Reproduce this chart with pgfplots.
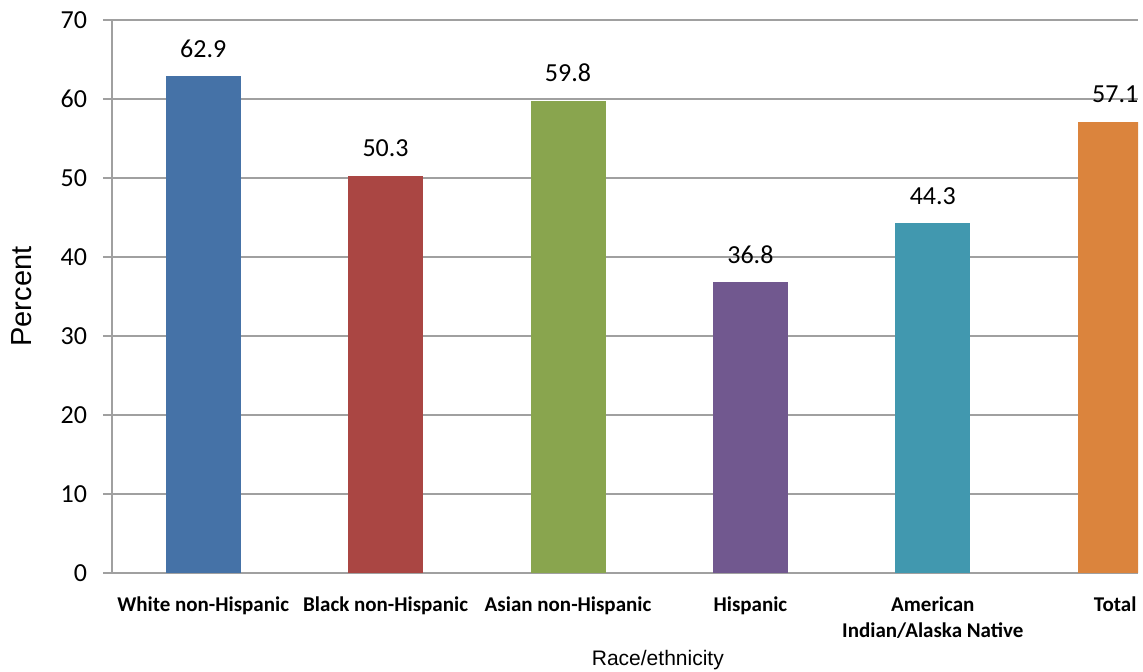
\documentclass[border=0pt]{standalone}
\usepackage{pgfplots}
\pgfplotsset{compat=1.18}
\usepackage{fontspec}
\setmainfont{Carlito}
\newfontfamily\arialfont{Liberation Sans}

\definecolor{cWhite}{RGB}{69,114,167}
\definecolor{cBlack}{RGB}{170,70,67}
\definecolor{cAsian}{RGB}{137,165,78}
\definecolor{cHisp}{RGB}{113,88,143}
\definecolor{cAIAN}{RGB}{65,152,175}
\definecolor{cTotal}{RGB}{219,132,61}
\definecolor{gridgray}{RGB}{160,160,160}

\begin{document}
\begin{tikzpicture}
\useasboundingbox (-56pt,-49.5pt) rectangle (515.5pt,286.5pt);
\begin{axis}[
  scale only axis, width=513pt, height=276.5pt,
  xmin=-0.5, xmax=5.125, ymin=0, ymax=70,
  ytick={0,10,...,70},
  xtick={0,...,5},
  xticklabels={White non-Hispanic, Black non-Hispanic, Asian non-Hispanic, Hispanic, {American\\Indian/Alaska Native}, Total},
  ybar, bar width=37.5pt, bar shift=0pt,
  ymajorgrids, grid style={gridgray, line width=0.6pt},
  axis x line*=bottom, axis y line*=left,
  axis line style={gridgray, line width=0.6pt, -},
  ytick align=outside, major tick length=4.5pt,
  xtick style={draw=none},
  ytick style={gridgray, line width=0.6pt},
  /pgf/number format/assume math mode=true,
  yticklabel style={font=\fontsize{13}{15}\selectfont, xshift=-4.5pt},
  xticklabel style={font=\fontsize{10.5}{13}\selectfont\bfseries, align=center, anchor=north, yshift=-4pt},
  ylabel={Percent},
  ylabel style={font=\arialfont\fontsize{14.5}{16}\selectfont, at={(axis description cs:-0.088,0.5)}, anchor=center},
  xlabel={Race/ethnicity},
  xlabel style={font=\arialfont\fontsize{10.5}{12}\selectfont, at={(axis description cs:0.532,-0.157)}, anchor=center},
  nodes near coords,
  every node near coord/.append style={font=\fontsize{13}{15}\selectfont, anchor=base, yshift=9.5pt, text=black},
  nodes near coords style={/pgf/number format/.cd, fixed, fixed zerofill, precision=1},
]
\addplot[fill=cWhite, draw=none] coordinates {(0,62.9)};
\addplot[fill=cBlack, draw=none] coordinates {(1,50.3)};
\addplot[fill=cAsian, draw=none] coordinates {(2,59.8)};
\addplot[fill=cHisp, draw=none] coordinates {(3,36.8)};
\addplot[fill=cAIAN, draw=none] coordinates {(4,44.3)};
\addplot[fill=cTotal, draw=none] coordinates {(5,57.1)};
\end{axis}
\end{tikzpicture}
\end{document}
